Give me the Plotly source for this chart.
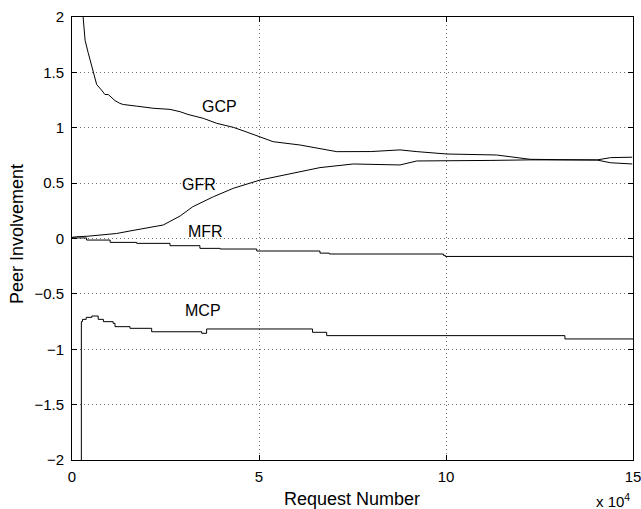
import plotly.graph_objects as go

# ---- data (x in requests, y = peer involvement) ----
gcp_x = [2600, 2900, 3500, 4300, 5300, 6100, 6600, 7900, 8800, 9700, 11500, 12800, 13700,
         17300, 21700, 26200, 28900, 31000, 35100, 38700, 43100, 46000, 50300, 53800, 61000,
         66300, 70800, 80000, 87700, 92000, 100200, 113500, 122500, 130000, 140300, 144000, 149800]
gcp_y = [2.15, 2.0, 1.79, 1.68, 1.55, 1.45, 1.39, 1.34, 1.30, 1.30, 1.245, 1.22, 1.21,
         1.195, 1.176, 1.166, 1.145, 1.12, 1.085, 1.04, 1.004, 0.97, 0.914, 0.874, 0.844,
         0.81, 0.784, 0.785, 0.80, 0.785, 0.763, 0.754, 0.715, 0.712, 0.709, 0.684, 0.673]

gfr_x = [0, 1200, 4000, 8400, 11900, 15500, 20900, 24400, 28900, 32300, 37800, 43100, 50300,
         56500, 66300, 75200, 87700, 92200, 100200, 112000, 122500, 135000, 140300, 144000, 149800]
gfr_y = [0.01, 0.016, 0.02, 0.032, 0.045, 0.068, 0.098, 0.122, 0.203, 0.287, 0.377, 0.453, 0.528,
         0.573, 0.64, 0.673, 0.664, 0.70, 0.70, 0.705, 0.71, 0.71, 0.709, 0.73, 0.734]

mfr_x = [0, 3900, 10200, 17300, 26200, 34200, 39600, 49400, 66300, 68800, 99300, 99800, 149800]
mfr_y = [0.005, -0.014, -0.035, -0.044, -0.065, -0.089, -0.095, -0.113, -0.132, -0.14,
         -0.152, -0.162, -0.172]

mcp_x = [2500, 2500, 2800, 3800, 5300, 7000, 8400, 11000, 11500, 15500, 21300, 34700, 36000,
         64300, 68100, 131800, 150000]
mcp_y = [-2.2, -0.751, -0.73, -0.712, -0.70, -0.73, -0.751, -0.766, -0.796, -0.811, -0.842,
         -0.856, -0.817, -0.847, -0.877, -0.907, -0.907]

labels = ["GCP", "GFR", "MFR", "MCP"]
label_x = [39400, 34000, 35600, 35000]
label_y = [1.196, 0.492, 0.059, -0.646]

x_tickvals = [0, 50000, 100000, 150000]
x_ticktext = ["0", "5", "10", "15"]
y_tickvals = [-2, -1.5, -1, -0.5, 0, 0.5, 1, 1.5, 2]
y_ticktext = ["\u22122", "\u22121.5", "\u22121", "\u22120.5", "0", "0.5", "1", "1.5", "2"]

FONT = "Liberation Sans, Arial, Helvetica, sans-serif"
W, H = 641, 509
L, R, T, B = 72, 8, 17, 49

fig = go.Figure()
line = dict(color="black", width=1)
fig.add_trace(go.Scatter(x=gcp_x, y=gcp_y, mode="lines", line=line, hoverinfo="skip"))
fig.add_trace(go.Scatter(x=gfr_x, y=gfr_y, mode="lines", line=line, hoverinfo="skip"))
fig.add_trace(go.Scatter(x=mfr_x, y=mfr_y, mode="lines", line=dict(color="black", width=1, shape="hv"), hoverinfo="skip"))
fig.add_trace(go.Scatter(x=mcp_x, y=mcp_y, mode="lines", line=dict(color="black", width=1, shape="hv"), hoverinfo="skip"))

for t, xx, yy in zip(labels, label_x, label_y):
    fig.add_annotation(x=xx, y=yy, text=t, showarrow=False, xref="x", yref="y",
                       xanchor="center", yanchor="middle",
                       font=dict(family=FONT, size=16, color="black"))

pw = W - L - R
ph = H - T - B
def px(xp):
    return (xp - L) / pw
def py(yp):
    return (H - B - yp) / ph

fig.add_annotation(x=px(352), y=py(499), xref="paper", yref="paper", text="Request Number",
                   xanchor="center", yanchor="middle", showarrow=False,
                   font=dict(family=FONT, size=18, color="black"))
fig.add_annotation(x=px(632), y=py(500), xref="paper", yref="paper", xanchor="right",
                   yanchor="middle", text="x 10<sup>4</sup>", showarrow=False,
                   font=dict(family=FONT, size=15, color="black"))
fig.add_annotation(x=px(17), y=py(234), xref="paper", yref="paper", text="Peer Involvement",
                   xanchor="center", yanchor="middle", textangle=-90, showarrow=False,
                   font=dict(family=FONT, size=18, color="black"))

axis_common = dict(showline=True, linecolor="black", linewidth=1, mirror="ticks",
                   ticks="inside", ticklen=5, tickcolor="black", tickwidth=1,
                   showgrid=True, gridcolor="#707070", gridwidth=1, griddash="1px,3px",
                   zeroline=False, automargin=False, ticklabeloverflow="allow",
                   tickfont=dict(family=FONT, size=15, color="black"))

fig.update_xaxes(range=[0, 150000], tickvals=x_tickvals, ticktext=x_ticktext,
                 ticklabelstandoff=3, **axis_common)
fig.update_yaxes(range=[-2, 2], tickvals=y_tickvals, ticktext=y_ticktext,
                 ticklabelstandoff=4, **axis_common)

fig.update_layout(width=W, height=H, margin=dict(l=L, r=R, t=T, b=B, autoexpand=False),
                  paper_bgcolor="white", plot_bgcolor="white", showlegend=False,
                  font=dict(family=FONT, color="black"))

fig.write_html("out.html")
